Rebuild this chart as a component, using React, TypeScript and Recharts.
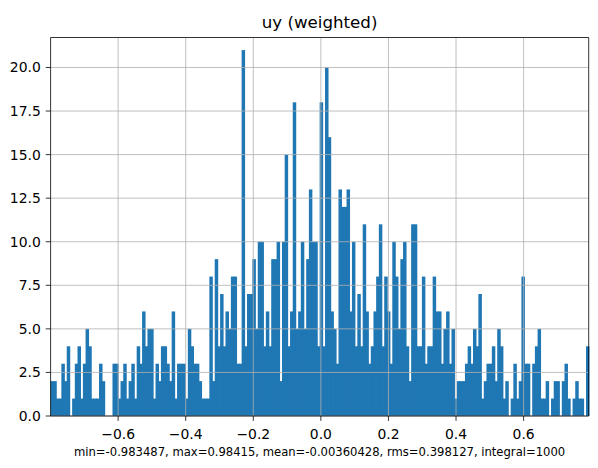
import React from "react";
import { BarChart, Bar, XAxis, YAxis, CartesianGrid } from "recharts";

// weighted entries per bin, 200 bins across the visible range
const binCounts = [
  2, 2, 1, 1, 3, 2, 4, 0, 1, 3,
  4, 1, 3, 5, 4, 1, 1, 1, 3, 2,
  0, 0, 0, 3, 3, 1, 2, 3, 1, 2,
  3, 1, 4, 3, 6, 4, 5, 5, 1, 3,
  2, 4, 4, 3, 2, 6, 1, 3, 3, 3,
  1, 5, 4, 3, 3, 2, 1, 1, 1, 8,
  2, 9, 4, 7, 4, 6, 5, 8, 8, 3,
  3, 21, 4, 7, 7, 9, 5, 10, 10, 4,
  6, 4, 9, 9, 10, 2, 10, 15, 4, 6,
  18, 5, 6, 10, 5, 9, 13, 10, 10, 4,
  18, 4, 20, 16, 6, 5, 3, 13, 12, 12,
  13, 6, 10, 4, 7, 4, 11, 6, 3, 4,
  6, 8, 11, 4, 8, 6, 3, 10, 8, 5,
  9, 10, 4, 2, 11, 11, 4, 4, 8, 3,
  4, 4, 8, 6, 6, 3, 5, 6, 3, 5,
  1, 2, 2, 2, 3, 4, 3, 5, 4, 7,
  1, 2, 3, 3, 4, 2, 5, 4, 1, 2,
  0, 1, 3, 1, 2, 8, 3, 3, 0, 3,
  4, 5, 1, 1, 2, 0, 1, 2, 2, 0,
  2, 3, 1, 0, 1, 2, 1, 1, 0, 4,
];

// x range is mean +/- 2 rms
const xRange = [-0.79986, 0.79265];
const xTicks = [-0.6, -0.4, -0.2, 0, 0.2, 0.4, 0.6];
const yTicks = [0, 2.5, 5, 7.5, 10, 12.5, 15, 17.5, 20];
const yMax = 21.72;

const title = "uy (weighted)";
const statsLine = "min=-0.983487, max=0.98415, mean=-0.00360428, rms=0.398127, integral=1000";

const binWidth = (xRange[1] - xRange[0]) / binCounts.length;
const chartData = binCounts.map((count, i) => ({
  bin: i,
  center: xRange[0] + (i + 0.5) * binWidth,
  count,
}));

const FONT = "'DejaVu Sans', sans-serif";
const axisStroke = { stroke: "#000", strokeWidth: 0.8 };
const tickStyle = { fill: "#000", fontSize: 13.9, fontFamily: FONT };

const formatX = (v: number) => {
  const s = Math.abs(v).toFixed(1);
  return v < -1e-9 ? "\u2212" + s : s;
};

// matplotlib bars touch each other, so widen a bit to hide the seams
const BinRect = (props: any) => {
  const { x, y, width, height, fill } = props;
  if (!height || height <= 0) return <g />;
  return <rect x={x} y={y} width={width + 0.8} height={height} fill={fill} />;
};

export default function App() {
  return (
    <div style={{ position: "absolute", left: 0, top: 0, width: 598, height: 468, background: "#fff" }}>
      <BarChart
        width={598}
        height={468}
        data={chartData}
        margin={{ top: 36.5, right: 8.3, left: 0.6, bottom: 22 }}
        barCategoryGap={0}
        barGap={0}
      >
        <XAxis
          xAxisId="num"
          dataKey="center"
          type="number"
          domain={xRange}
          allowDataOverflow
          ticks={xTicks}
          interval={0}
          tickFormatter={formatX}
          height={30}
          tickSize={4.86}
          tickMargin={8}
          axisLine={axisStroke}
          tickLine={axisStroke}
          tick={tickStyle}
        />
        <XAxis xAxisId="bin" dataKey="bin" type="category" height={0} hide />
        <Bar
          xAxisId="bin"
          dataKey="count"
          fill="#1f77b4"
          barSize={2.68}
          shape={<BinRect />}
          isAnimationActive={false}
        />
        <CartesianGrid
          xAxisId="num"
          stroke="#b0b0b0"
          strokeWidth={0.8}
          verticalValues={xTicks}
          horizontalValues={yTicks}
          zIndex={350}
        />
        <XAxis
          xAxisId="top"
          orientation="top"
          type="number"
          domain={xRange}
          allowDataOverflow
          height={1}
          tick={false}
          tickLine={false}
          axisLine={axisStroke}
        />
        <YAxis
          domain={[0, yMax]}
          allowDataOverflow
          ticks={yTicks}
          interval={0}
          tickFormatter={(v: number) => v.toFixed(1)}
          width={50}
          tickSize={4.86}
          tickMargin={5}
          axisLine={axisStroke}
          tickLine={axisStroke}
          tick={tickStyle}
        />
        <YAxis
          yAxisId="right"
          orientation="right"
          domain={[0, yMax]}
          allowDataOverflow
          width={1}
          tick={false}
          tickLine={false}
          axisLine={axisStroke}
        />
      </BarChart>
      <svg width={598} height={468} style={{ position: "absolute", left: 0, top: 0, pointerEvents: "none" }}>
        <text x={319.6} y={28} textAnchor="middle" fontFamily={FONT} fontSize={16.67} fill="#000">
          {title}
        </text>
        <text x={319.6} y={455.5} textAnchor="middle" fontFamily={FONT} fontSize={11.6} fill="#000">
          {statsLine}
        </text>
      </svg>
    </div>
  );
}
